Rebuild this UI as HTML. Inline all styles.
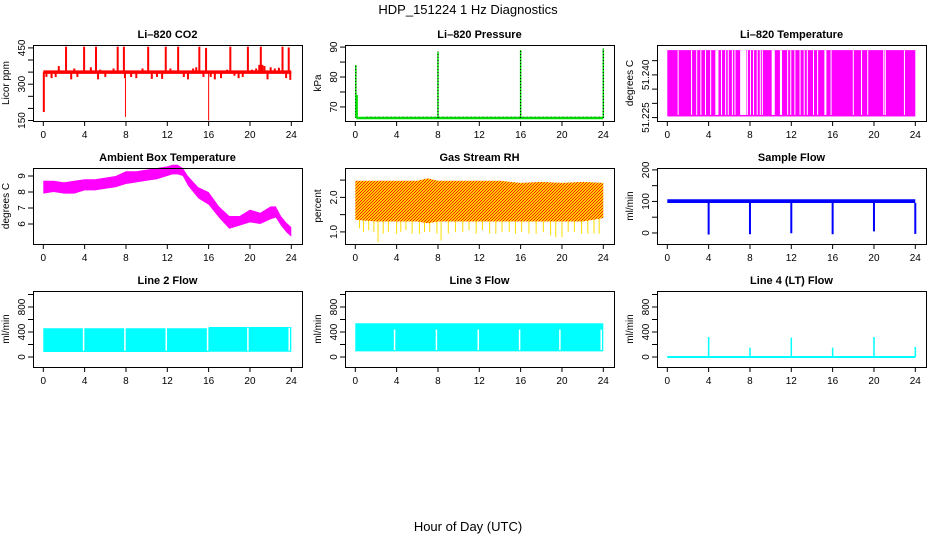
<!DOCTYPE html>
<html><head><meta charset="utf-8">
<style>
html,body{margin:0;padding:0;background:#fff;}
svg{display:block;font-family:"Liberation Sans",sans-serif;}
</style></head>
<body>
<svg id="c" width="936" height="540" viewBox="0 0 936 540">
<defs>
<pattern id="rhpat" width="3" height="3" patternUnits="userSpaceOnUse">
<rect width="3" height="3" fill="#ffcc00"/><rect width="1" height="1" fill="#ff2000"/><rect x="2" y="1" width="1" height="1" fill="#ff2000"/><rect x="1" y="2" width="1" height="1" fill="#ff2000"/>
</pattern>
</defs>
<text x="468" y="14" text-anchor="middle" font-size="13">HDP_151224  1 Hz Diagnostics</text>
<text x="468" y="531" text-anchor="middle" font-size="13">Hour of Day (UTC)</text>
</svg>
<script>
// ---- data ----
const xTicks = [0,4,8,12,16,20,24];
const co2Base = 350;
const co2SpikeHours = [2.2,3.95,5.1,7.2,7.8,10.15,11.85,13.05,15.1,15.75,18.1,19.8,21.05,23.15,23.75];
const co2SpikeVals = [455,455,455,455,455,455,455,455,455,450,455,455,455,455,452];
const co2SmallHours = [0.3,0.8,1.2,1.5,2.7,3.0,3.3,3.8,4.6,5.3,5.5,6.0,6.8,7.9,8.5,9.0,9.6,10.5,11.0,11.5,12.3,13.6,14.0,14.5,14.8,15.5,16.2,16.6,17.2,17.8,18.5,18.9,19.3,20.2,20.6,20.9,21.2,21.4,21.7,22.0,22.4,22.8,23.5,23.9];
const co2SmallVals = [330,325,330,375,320,365,330,355,370,320,360,330,365,325,330,325,365,322,330,322,365,330,320,365,370,330,330,320,325,360,335,325,330,360,365,380,380,375,320,370,365,368,325,318];
const co2DipHours = [0.05,7.95,16.0];
const co2DipVals = [185,165,150];
const presBase = 66.3;
const presSpikeHours = [0.05,8.0,16.0,24.0];
const presSpikeVals = [84,88.5,89,89.5];
const tempHi = 51.2487;
const tempLo = 51.2254;
const tempGapHours = [1.0,2.3,2.8,3.2,3.65,4.15,4.65,5.2,5.6,5.85,6.25,6.5,7.05,7.7,8.0,8.3,8.65,8.95,9.15,10.1,10.9,11.6,11.9,12.3,12.8,13.2,13.5,14.1,14.5,15.2,15.8,17.95,18.75,19.35,20.9,21.05,22.9];
const tempGapWidths = [0.06,0.06,0.06,0.06,0.06,0.08,0.3,0.06,0.06,0.06,0.06,0.06,0.6,0.06,0.06,0.06,0.06,0.06,0.06,0.3,0.2,0.06,0.06,0.06,0.06,0.06,0.06,0.06,0.06,0.2,0.06,0.06,0.06,0.06,0.06,0.06,0.06];
const ambHours = [0,1,2,3,4,5,6,7,8,9,10,11,12,12.5,13,13.5,14,15,16,17,18,19,20,21,22,22.5,23,23.5,24];
const ambLo = [7.9,8.0,7.9,7.9,8.1,8.1,8.2,8.3,8.5,8.6,8.7,8.8,9.0,9.1,9.1,9.0,8.4,7.6,7.2,6.4,5.7,5.9,6.1,6.0,6.3,6.4,5.9,5.5,5.2];
const ambHi = [8.7,8.7,8.6,8.7,8.8,8.8,8.9,9.0,9.3,9.3,9.4,9.5,9.6,9.7,9.7,9.5,9.0,8.3,8.0,7.1,6.5,6.5,6.9,6.7,7.1,7.1,6.5,6.1,5.8];
const rhHours = [0,2,4,6,7,8,10,12,14,16,18,20,22,24];
const rhHi = [2.48,2.48,2.48,2.48,2.55,2.48,2.48,2.48,2.48,2.42,2.45,2.42,2.45,2.42];
const rhLo = [1.35,1.3,1.3,1.3,1.25,1.3,1.3,1.3,1.3,1.3,1.3,1.3,1.3,1.4];
const rhWhiskHours = [0.4,0.8,1.3,1.8,2.2,2.7,3.2,4.0,4.4,4.9,5.5,6.2,6.7,7.2,7.9,8.3,9.0,9.7,10.4,11.0,11.7,12.3,13.0,13.6,14.2,14.9,15.5,16.1,16.8,17.5,18.2,18.9,19.4,20.0,20.6,21.2,21.9,22.5,23.1,23.6];
const rhWhiskVals = [1.1,1.0,1.05,1.0,0.7,0.95,1.0,0.95,1.0,1.05,0.95,0.95,1.0,1.0,0.95,0.75,0.95,1.0,1.0,1.05,0.95,1.05,0.95,0.95,1.0,1.0,0.95,1.0,0.95,0.95,1.0,0.9,0.85,0.85,1.0,1.0,0.95,0.95,0.95,0.95];
const sfBaseLo = 95, sfBaseHi = 107;
const sfDipHours = [4,8,12,16,20,24];
const sfDipVals = [-5,-4,-1,-4,5,-3];
const l2Hours = [0,16,16.01,24];
const l2Lo = [80,80,85,85];
const l2Hi = [460,460,480,480];
const l2GapHours = [3.9,7.9,11.9,15.9,19.8,23.8];
const l3Hours = [0,24];
const l3Lo = [90,90];
const l3Hi = [540,540];
const l3GapHours = [3.8,7.85,11.9,15.9,19.8,23.8];
const l4SpikeHours = [4,8,12,16,20,24];
const l4SpikeVals = [320,150,310,150,320,160];

// ---- layout helpers ----
const svg = document.getElementById('c');
const NS = 'http://www.w3.org/2000/svg';
function mk(tag, attrs, parent){
  const e = document.createElementNS(NS, tag);
  for (const k in attrs) e.setAttribute(k, attrs[k]);
  (parent||svg).appendChild(e);
  return e;
}
const colX = [33,345,657], rowY = [45,168,291], W = 269, H = 76;
function panel(col,row,title,ylabel,ymin,ymax,ticks,labels,name){
  const L = colX[col], T = rowY[row];
  const g = mk('g',{});
  
  
  const xs = h => L + 10.3 + h * (248/24);
  const ys = v => T + H - (v - ymin) / (ymax - ymin) * H;
  const plot = mk('g',{},g);
  
  
  const t = mk('text',{x:L+W/2,y:T-7,'text-anchor':'middle','font-size':'11','font-weight':'bold'},g);
  t.textContent = title;
  
  
  const yl = mk('text',{x:0,y:0,'text-anchor':'middle','font-size':'10',transform:`translate(${L-24},${T+H/2}) rotate(-90)`},g);
  yl.textContent = ylabel;
  
  
  const ax = mk('g',{},g);
  
  
  xTicks.forEach(h=>{
    mk('line',{x1:xs(h),x2:xs(h),y1:T+H,y2:T+H+5,stroke:'#000'},ax);
    const tx = mk('text',{x:xs(h),y:T+H+17,'text-anchor':'middle','font-size':'10'},ax);
    tx.textContent = h;
    
    
  });
  const ay = mk('g',{},g);
  
  
  ticks.forEach((v,i)=>{
    mk('line',{x1:L-5,x2:L,y1:ys(v),y2:ys(v),stroke:'#000'},ay);
    if (labels[i] !== '') {
      const tx = mk('text',{x:0,y:0,'text-anchor':'middle','font-size':'10',transform:`translate(${L-8},${ys(v)}) rotate(-90)`},ay);
      tx.textContent = labels[i];
      
      
    }
  });
  return {plot, xs, ys, g, L, T};
}
function finishBox(p){
  mk('rect',{x:p.L+0.5,y:p.T+0.5,width:W,height:H,fill:'none',stroke:'#000'},p.g);
}
function vline(p,h,v1,v2,color,w,nm){
  const l = mk('line',{x1:p.xs(h),x2:p.xs(h),y1:p.ys(v1),y2:p.ys(v2),stroke:color,'stroke-width':w||1},p.plot);
  
  
  return l;
}
function band(p,hours,lo,hi,fill,nm){
  let d = hours.map((h,i)=>`${i?'L':'M'}${p.xs(h)},${p.ys(hi[i])}`).join('');
  for (let i=hours.length-1;i>=0;i--) d += `L${p.xs(hours[i])},${p.ys(lo[i])}`;
  const e = mk('path',{d:d+'Z',fill:fill},p.plot);
  
  
  return e;
}

// ---- CO2 ----
let p = panel(0,0,'Li\u2013820 CO2','Licor ppm',148,462,[150,200,250,300,350,400,450],['150','','','300','','','450'],'co2');
co2SmallHours.forEach((h,i)=>vline(p,h,co2Base,co2SmallVals[i],'#ff0000',2,'co2-small-excursion'));
co2SpikeHours.forEach((h,i)=>vline(p,h,co2Base,co2SpikeVals[i],'#ff0000',2,'co2-spike'));
co2DipHours.forEach((h,i)=>vline(p,h,co2Base,co2DipVals[i],'#ff0000',h<1?2:1,'co2-dip'));
{const b=mk('line',{x1:p.xs(0),x2:p.xs(24),y1:p.ys(co2Base),y2:p.ys(co2Base),stroke:'#ff0000','stroke-width':3.5},p.plot);

}
finishBox(p);

// ---- Pressure ----
p = panel(1,0,'Li\u2013820 Pressure','kPa',65.3,90.7,[70,75,80,85,90],['70','','80','','90'],'pressure');
{const b=mk('line',{x1:p.xs(0.1),x2:p.xs(24),y1:p.ys(presBase),y2:p.ys(presBase),stroke:'#00dd00','stroke-width':2.5},p.plot);


const b2=mk('line',{x1:p.xs(1.1),x2:p.xs(24),y1:p.ys(presBase)-1,y2:p.ys(presBase)-1,stroke:'#333','stroke-width':0.8,'stroke-dasharray':'1,3'},p.plot);

}
presSpikeHours.forEach((h,i)=>{
  vline(p,h,presBase,presSpikeVals[i],'#00dd00',1.5,'pressure-spike');
  const l=vline(p,h,presBase,presSpikeVals[i],'#000',1,'pressure-spike-dots');
  l.setAttribute('stroke-dasharray','1,2');
});
vline(p,0.15,presBase,74,'#00dd00',2,'pressure-start-step');
finishBox(p);

// ---- Li-820 Temperature ----
p = panel(2,0,'Li\u2013820 Temperature','degrees C',51.2238,51.2505,[51.225,51.230,51.235,51.240,51.245],['51.225','','','51.240',''],'li820-temp');
{const r=mk('rect',{x:p.xs(0),y:p.ys(tempHi),width:p.xs(24)-p.xs(0),height:p.ys(tempLo)-p.ys(tempHi),fill:'#ff00ff'},p.plot);

}
tempGapHours.forEach((h,i)=>{
  const r=mk('rect',{x:p.xs(h),y:p.ys(tempHi),width:Math.max(1,p.xs(tempGapWidths[i])-p.xs(0)),height:p.ys(tempLo)-p.ys(tempHi)-1.5,fill:'#fff'},p.plot);
  
  
});
finishBox(p);

// ---- Ambient Box Temperature ----
p = panel(0,1,'Ambient Box Temperature','degrees C',4.75,9.5,[6,7,8,9],['6','7','8','9'],'ambient-temp');
band(p,ambHours,ambLo,ambHi,'#ff00ff','ambient-temp-band');
finishBox(p);

// ---- Gas Stream RH ----
p = panel(1,1,'Gas Stream RH','percent',0.65,2.85,[1.0,1.5,2.0,2.5],['1.0','','2.0',''],'gas-rh');
rhWhiskHours.forEach((h,i)=>vline(p,h,1.4,rhWhiskVals[i],'#ffdd00',1,'gas-rh-whisker'));
band(p,rhHours,rhLo,rhHi,'url(#rhpat)','gas-rh-band');
finishBox(p);

// ---- Sample Flow ----
p = panel(2,1,'Sample Flow','ml/min',-35,206,[0,50,100,150,200],['0','','100','','200'],'sample-flow');
band(p,[0,24],[sfBaseLo,sfBaseLo],[sfBaseHi,sfBaseHi],'#0000ff','sample-flow-band');
sfDipHours.forEach((h,i)=>vline(p,h,sfBaseLo,sfDipVals[i],'#0000ff',2,'sample-flow-dip'));
finishBox(p);

// ---- Line 2 ----
const flowTicks=[0,200,400,600,800,1000], flowLabels=['0','','400','','800',''];
p = panel(0,2,'Line 2 Flow','ml/min',-160,1056,flowTicks,flowLabels,'line2-flow');
band(p,l2Hours,l2Lo,l2Hi,'#00ffff','line2-flow-band');
l2GapHours.forEach(h=>vline(p,h,l2Lo[0]+20,l2Hi[0]+10,'#fff',1.5,'line2-flow-gap'));
finishBox(p);

// ---- Line 3 ----
p = panel(1,2,'Line 3 Flow','ml/min',-160,1056,flowTicks,flowLabels,'line3-flow');
band(p,l3Hours,l3Lo,l3Hi,'#00ffff','line3-flow-band');
l3GapHours.forEach(h=>vline(p,h,l3Lo[0]+20,440,'#fff',1.5,'line3-flow-gap'));
finishBox(p);

// ---- Line 4 ----
p = panel(2,2,'Line 4 (LT) Flow','ml/min',-160,1056,flowTicks,flowLabels,'line4-flow');
{const b=mk('line',{x1:p.xs(0),x2:p.xs(24),y1:p.ys(0),y2:p.ys(0),stroke:'#00ffff','stroke-width':2},p.plot);

}
l4SpikeHours.forEach((h,i)=>vline(p,h,0,l4SpikeVals[i],'#00ffff',1.5,'line4-flow-spike'));
finishBox(p);
</script>
</body></html>
